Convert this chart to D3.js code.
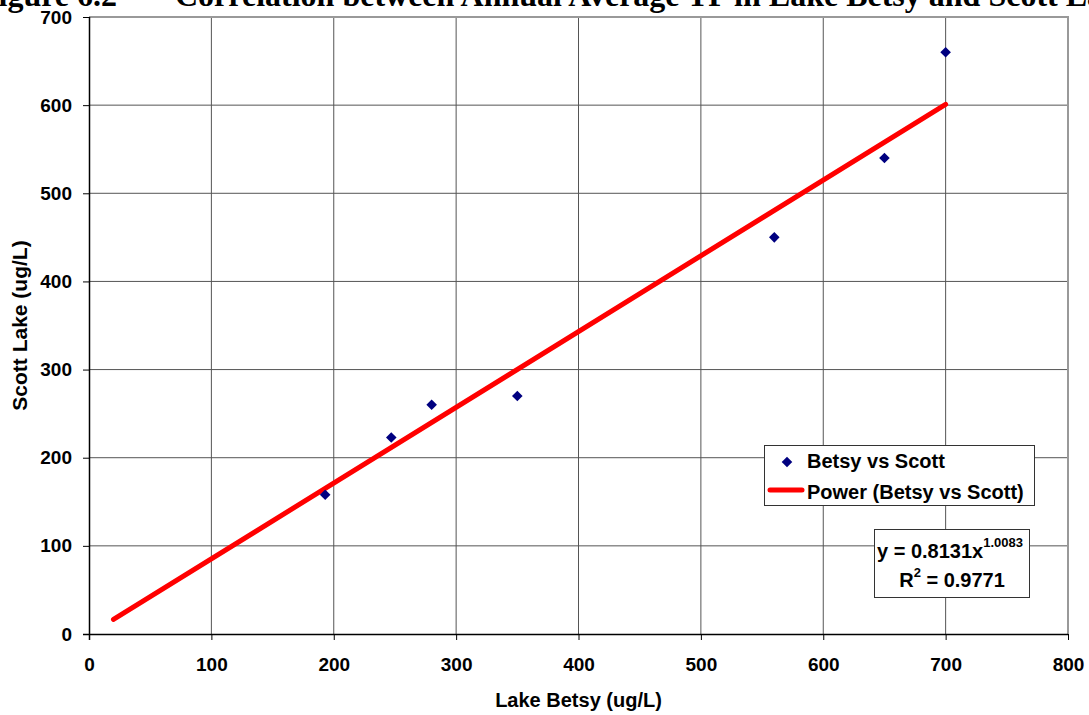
<!DOCTYPE html>
<html>
<head>
<meta charset="utf-8">
<script src="https://cdn.jsdelivr.net/npm/d3@7"></script>
<style>
  body { margin: 0; background: #fff; overflow: hidden; }
  text { font-family: "Liberation Sans", Arial, sans-serif; font-weight: bold; fill: #000; }
</style>
</head>
<body>
<svg id="chart" width="1089" height="715"></svg>
<script>
const width = 1089, height = 715;
const margin = { top: 17, right: 21, bottom: 81, left: 89 };

// data
const betsy = [193, 247, 280, 350, 560, 650, 700];
const scott = [158, 223, 260, 270, 450, 540, 660];
// power trendline end points (as drawn)
const trendX = [20, 700];
const trendY = [16.5, 601];

const xTicks = [0, 100, 200, 300, 400, 500, 600, 700, 800];
const yTicks = [0, 100, 200, 300, 400, 500, 600, 700];

const svg = d3.select("#chart");

// title, clipped at the top like the scan
const titleFont = "'Liberation Serif', 'Times New Roman', serif";
svg.append("text")
  .attr("x", 117).attr("y", 6)
  .attr("text-anchor", "end")
  .style("font-family", titleFont)
  .style("font-size", "32px")
  .text("Figure 6.2");
svg.append("text")
  .attr("x", 175).attr("y", 6)
  .style("font-family", titleFont)
  .style("font-size", "32px")
  .text("Correlation between Annual Average TP in Lake Betsy and Scott Lake");

const x = d3.scaleLinear().domain([0, 800]).range([margin.left, width - margin.right]);
const y = d3.scaleLinear().domain([0, 700]).range([height - margin.bottom, margin.top]);

// gridlines
svg.append("g")
  .selectAll("line")
  .data(xTicks.slice(1, -1))
  .join("line")
  .attr("x1", (d) => x(d)).attr("x2", (d) => x(d))
  .attr("y1", y(0)).attr("y2", y(700))
  .attr("stroke", "#555").attr("stroke-width", 1);
svg.append("g")
  .selectAll("line")
  .data(yTicks.slice(1, -1))
  .join("line")
  .attr("x1", x(0)).attr("x2", x(800))
  .attr("y1", (d) => y(d)).attr("y2", (d) => y(d))
  .attr("stroke", "#555").attr("stroke-width", 1);

// top and right frame
svg.append("path")
  .attr("d", `M${x(0)},${y(700)}H${x(800)}V${y(0)}`)
  .attr("fill", "none").attr("stroke", "#999").attr("stroke-width", 2);

// axes
const xAxis = d3.axisBottom(x).tickValues(xTicks).tickSize(6).tickPadding(18);
const yAxis = d3.axisLeft(y).tickValues(yTicks).tickSize(6).tickPadding(11);

const tickStyle = (g) => g.selectAll(".tick text")
  .style("font-size", "19px")
  .style("font-family", "'Liberation Sans', Arial, sans-serif")
  .style("font-weight", "bold");

svg.append("g")
  .attr("transform", `translate(0,${y(0)})`)
  .call(xAxis)
  .call((g) => g.select(".domain").attr("stroke", "#000").attr("stroke-width", 1.5).attr("d", `M${x(0) - 6},0.5H${x(800)}`))
  .call((g) => g.selectAll(".tick line").attr("stroke", "#000"))
  .call(tickStyle);

svg.append("g")
  .attr("transform", `translate(${x(0)},0)`)
  .call(yAxis)
  .call((g) => g.select(".domain").attr("stroke", "#000").attr("stroke-width", 1.5).attr("d", `M0.5,${y(700)}V${y(0) + 6}`))
  .call((g) => g.selectAll(".tick line").attr("stroke", "#000"))
  .call(tickStyle);

// axis titles
svg.append("text")
  .attr("x", (x(0) + x(800)) / 2).attr("y", 707)
  .attr("text-anchor", "middle")
  .style("font-size", "20px")
  .text("Lake Betsy (ug/L)");
svg.append("text")
  .attr("transform", `translate(27,${(y(0) + y(700)) / 2}) rotate(-90)`)
  .attr("text-anchor", "middle")
  .style("font-size", "21px")
  .text("Scott Lake (ug/L)");

// trendline
const line = d3.line().x((d) => x(d[0])).y((d) => y(d[1]));
svg.append("path")
  .datum(d3.zip(trendX, trendY))
  .attr("d", line)
  .attr("fill", "none")
  .attr("stroke", "#ff0000")
  .attr("stroke-width", 5)
  .attr("stroke-linecap", "round");

// points
const diamond = d3.symbol().type(d3.symbolSquare).size(56);
svg.append("g")
  .selectAll("path")
  .data(d3.zip(betsy, scott))
  .join("path")
  .attr("d", diamond)
  .attr("transform", (d) => `translate(${x(d[0])},${y(d[1])}) rotate(45)`)
  .attr("fill", "#000080");

// legend
const leg = svg.append("g");
leg.append("rect")
  .attr("x", 764.5).attr("y", 445.5).attr("width", 270).attr("height", 60)
  .attr("fill", "#fff").attr("stroke", "#333").attr("stroke-width", 1);
leg.append("path")
  .attr("d", diamond)
  .attr("transform", "translate(787,462) rotate(45)")
  .attr("fill", "#000080");
leg.append("text").attr("x", 807).attr("y", 468).style("font-size", "20px").text("Betsy vs Scott");
leg.append("line")
  .attr("x1", 770).attr("x2", 802).attr("y1", 490).attr("y2", 490)
  .attr("stroke", "#ff0000").attr("stroke-width", 5).attr("stroke-linecap", "round");
leg.append("text").attr("x", 807).attr("y", 499).style("font-size", "20px").text("Power (Betsy vs Scott)");

// equation box
const eq = svg.append("g");
eq.append("rect")
  .attr("x", 874.5).attr("y", 529.5).attr("width", 155).attr("height", 68)
  .attr("fill", "#fff").attr("stroke", "#333").attr("stroke-width", 1);
const t1 = eq.append("text").attr("x", 877).attr("y", 558).style("font-size", "20px");
t1.append("tspan").text("y = 0.8131x");
t1.append("tspan").attr("dy", -11).style("font-size", "13px").text("1.0083");
const t2 = eq.append("text").attr("x", 952).attr("y", 587).attr("text-anchor", "middle").style("font-size", "20px");
t2.append("tspan").text("R");
t2.append("tspan").attr("dy", -10).style("font-size", "13px").text("2");
t2.append("tspan").attr("dy", 10).text(" = 0.9771");
</script>
</body>
</html>
